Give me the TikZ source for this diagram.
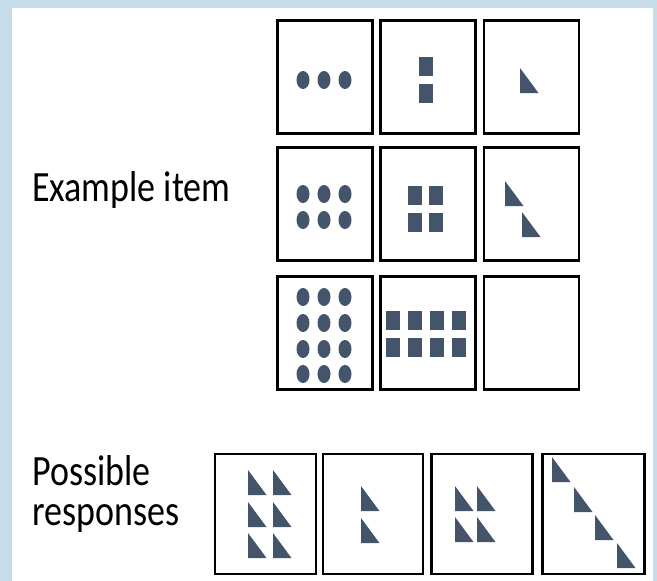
\documentclass[tikz,border=0pt]{standalone}
\usepackage{fontspec}
\setmainfont{Carlito}
\definecolor{slate}{HTML}{44546A}
\definecolor{frame}{RGB}{198,220,232}
\newcommand\tallword[1]{\scalebox{1}[1.2]{#1}}
\tikzset{
  cell/.style={draw=black, line width=2.6pt, minimum width=#1, minimum height=113pt, inner sep=0pt},
  cell/.default=95pt,
  ink/.style={fill=slate},
  label/.style={font=\fontsize{36}{43}\selectfont, inner sep=0pt, anchor=base west},
  wedge/.pic={\fill[ink] (0,0) -- (0,25) -- (18.5,25) -- cycle;}
}
\begin{document}
\begin{tikzpicture}[x=1pt, y=-1pt]

  % --- background ---
  \fill[frame] (0,0) rectangle (657,581);
  \fill[white] (12,8) rectangle (653,581);
  \useasboundingbox (0,0) rectangle (657,581);

  % --- labels ---
  \node[label] (example) at (32,201) {\tallword{Example item}};
  \node[label] (possible) at (32,485) {\tallword{Possible}};
  \node[label] (responses) at (32,525) {\tallword{responses}};

  % --- example item: 3 x 3 grid ---
  \node[cell] (a1) at (325,77) {};
  \node[cell] (a2) at (428,77) {};
  \node[cell] (a3) at (531.5,77) {};
  \node[cell] (b1) at (325,204) {};
  \node[cell] (b2) at (428,204) {};
  \node[cell] (b3) at (531.5,204) {};
  \node[cell] (c1) at (325,333) {};
  \node[cell] (c2) at (428,333) {};
  \node[cell] (c3) at (531.5,333) {};

  % dots
  \foreach \x in {303,324,345} {
    \fill[ink] (\x,80) ellipse [x radius=6.5pt, y radius=9pt];
    \foreach \y in {194,220}
      \fill[ink] (\x,\y) ellipse [x radius=6.5pt, y radius=9pt];
    \foreach \y in {297,323,349,374}
      \fill[ink] (\x,\y) ellipse [x radius=6.5pt, y radius=9pt];
  }

  % squares
  \foreach \y in {57,84}
    \fill[ink] (419,\y) rectangle ++(14,19);
  \foreach \x in {408,429}
    \foreach \y in {186,213}
      \fill[ink] (\x,\y) rectangle ++(14,19);
  \foreach \x in {386,408,430,452}
    \foreach \y in {311,338}
      \fill[ink] (\x,\y) rectangle ++(14,19);

  % triangles
  \pic at (520,68) {wedge};
  \pic at (505,181) {wedge};
  \pic at (522,212) {wedge};

  % --- possible responses ---
  \node[cell=101pt, minimum height=120pt] (r1) at (265.5,514) {};
  \node[cell=100pt, minimum height=120pt] (r2) at (373,514) {};
  \node[cell=101pt, minimum height=120pt] (r3) at (482,514) {};
  \node[cell=102pt, minimum height=120pt] (r4) at (593.5,514) {};

  \foreach \x in {248,273}
    \foreach \y in {470,502,533}
      \pic at (\x,\y) {wedge};
  \foreach \y in {486,518}
    \pic at (361,\y) {wedge};
  \foreach \x in {455,477}
    \foreach \y in {486,517}
      \pic at (\x,\y) {wedge};
  \foreach \x/\y in {552/457,574/487,595/515,617/543}
    \pic at (\x,\y) {wedge};

\end{tikzpicture}
\end{document}
